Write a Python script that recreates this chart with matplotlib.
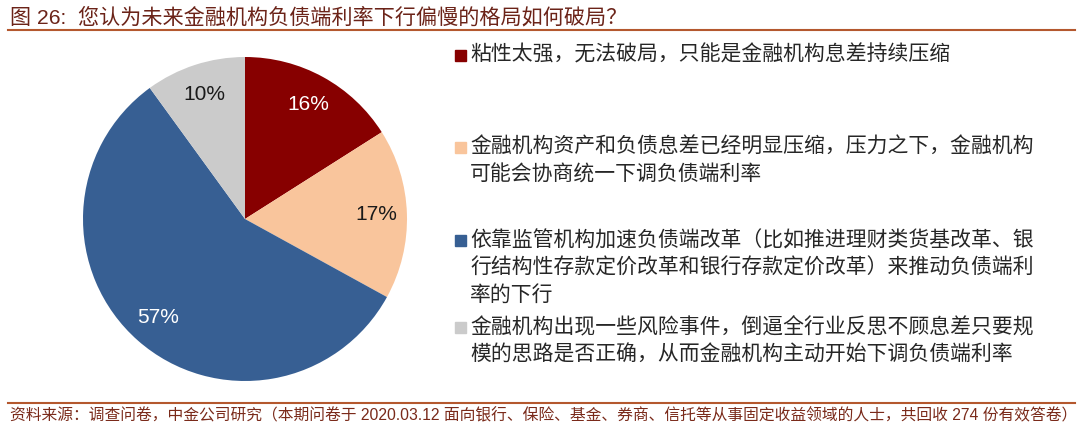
import matplotlib
matplotlib.use("Agg")
import matplotlib.pyplot as plt
from matplotlib.patches import Rectangle
from matplotlib.lines import Line2D
import numpy as np

plt.rcParams['font.family'] = ['Liberation Sans', 'Noto Sans CJK SC', 'DejaVu Sans']

# data
categories = [
  ["粘性太强，无法破局，只能是金融机构息差持续压缩"],
  ["金融机构资产和负债息差已经明显压缩，压力之下，金融机构",
   "可能会协商统一下调负债端利率"],
  ["依靠监管机构加速负债端改革（比如推进理财类货基改革、银",
   "行结构性存款定价改革和银行存款定价改革）来推动负债端利",
   "率的下行"],
  ["金融机构出现一些风险事件，倒逼全行业反思不顾息差只要规",
   "模的思路是否正确，从而金融机构主动开始下调负债端利率"],
]
shares = [16, 17, 57, 10]
colors = ["#870000", "#F9C59C", "#375F93", "#CBCBCB"]
pct_colors = ["white", "#1a1a1a", "white", "#1a1a1a"]

title = "图 26:  您认为未来金融机构负债端利率下行偏慢的格局如何破局？"
source = ("资料来源：调查问卷，中金公司研究（本期问卷于 2020.03.12 面向银行、保险、基金、券商、"
          "信托等从事固定收益领域的人士，共回收 274 份有效答卷）")

W, H = 1080, 433
fig = plt.figure(figsize=(W / 100, H / 100), dpi=100)

# pie axes, center (245, 219) px, radius 162 px
cx, cy, r = 245, 219, 162
ax = fig.add_axes([(cx - r) / W, (H - cy - r) / H, 2 * r / W, 2 * r / H])
wedges, texts = ax.pie(shares, colors=colors, startangle=90, counterclock=False,
                       radius=1, wedgeprops=dict(linewidth=0))
cum = np.cumsum([0] + shares)
for i, v in enumerate(shares):
  mid = 90 - (cum[i] + v / 2) / sum(shares) * 360
  x = 0.81 * np.cos(np.radians(mid))
  y = 0.81 * np.sin(np.radians(mid))
  ax.text(x, y, "{}%".format(v), ha="center", va="center", fontsize=15,
          color=pct_colors[i], family="Liberation Sans")
ax.set_xlim(-1, 1)
ax.set_ylim(-1, 1)
ax.set_aspect("equal")
ax.axis("off")

# legend drawn by hand
first_y = [55, 147, 240, 327]
line_gap = 27.5
for i, lines in enumerate(categories):
  y0 = first_y[i]
  fig.patches.append(Rectangle((455 / W, 1 - (y0 + 5.5) / H), 11 / W, 11 / H,
                               transform=fig.transFigure, color=colors[i]))
  for j, ln in enumerate(lines):
    fig.text(470 / W, 1 - (y0 + j * line_gap) / H, ln, fontsize=15,
             color="#262626", va="center", ha="left",
             family=["Noto Sans CJK SC", "DejaVu Sans"])

# title and footer
fig.text(10 / W, 1 - 17 / H, title, fontsize=15.2, color="#6B2318", va="center", ha="left",
         family=["Liberation Sans", "Noto Sans CJK SC"])
fig.lines.append(Line2D([8 / W, 1075 / W], [1 - 30 / H, 1 - 30 / H],
                        transform=fig.transFigure, color="#B4582E", linewidth=1.5))
fig.lines.append(Line2D([8 / W, 1075 / W], [1 - 403 / H, 1 - 403 / H],
                        transform=fig.transFigure, color="#B4582E", linewidth=1.5))
fig.text(10 / W, 1 - 416 / H, source, fontsize=11.35, color="#7A2A1A", va="center", ha="left",
         family=["Liberation Sans", "Noto Sans CJK SC"])

fig.savefig("out.png", dpi=100)
